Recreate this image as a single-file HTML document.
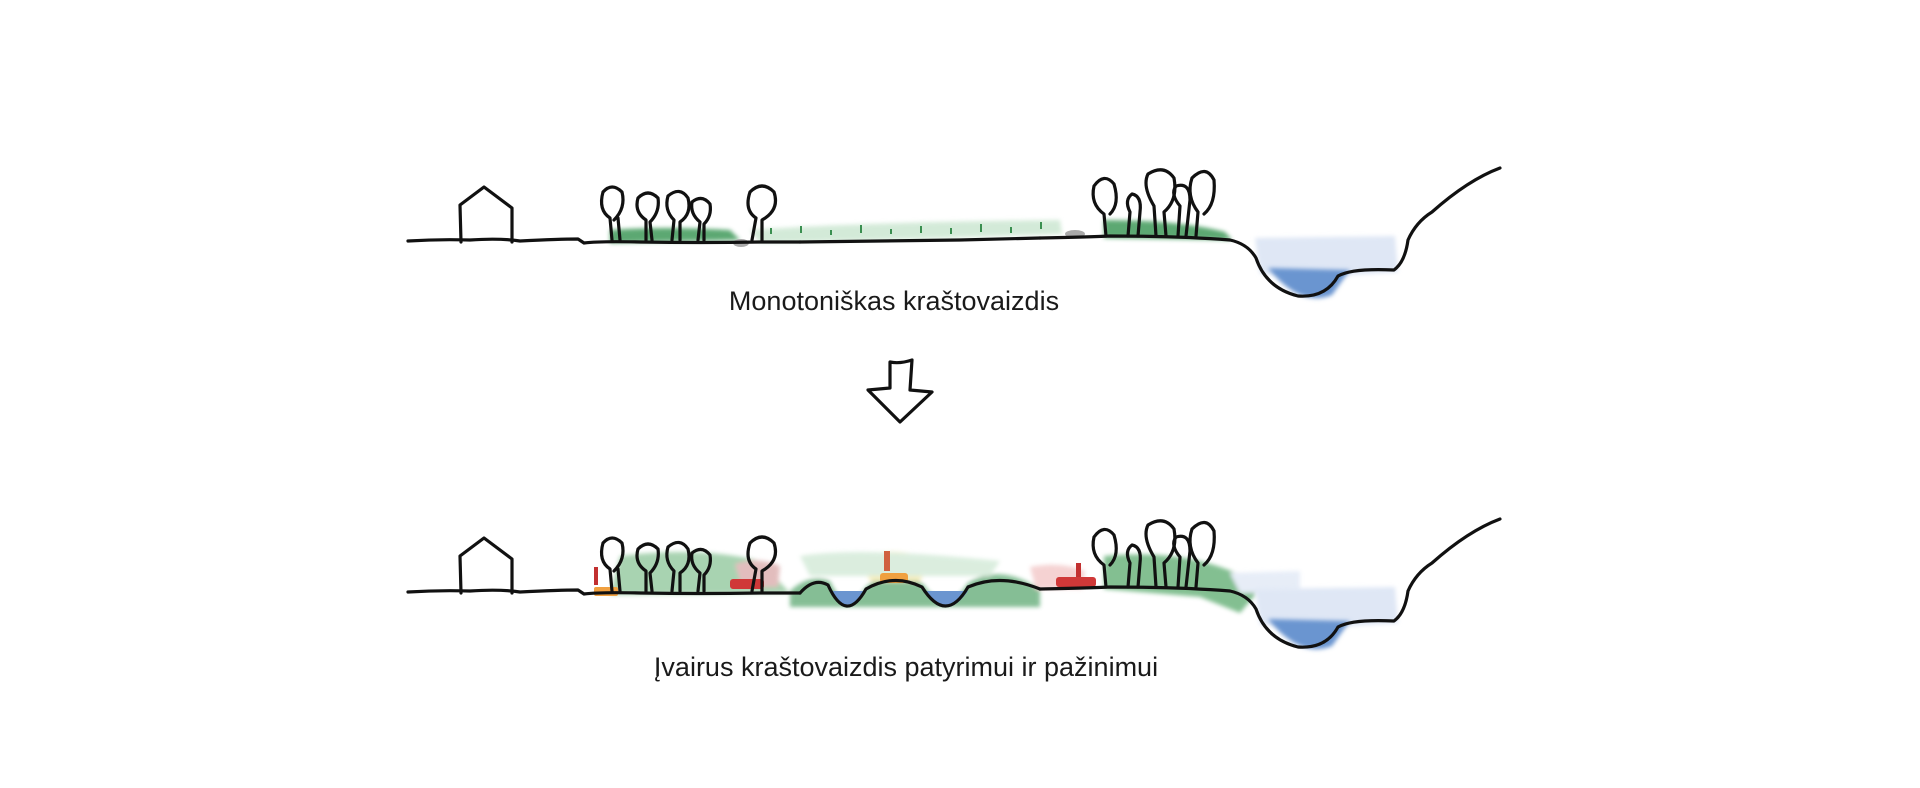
<!DOCTYPE html>
<html><head><meta charset="utf-8"><style>
html,body{margin:0;padding:0;background:#fff;width:1920px;height:788px;overflow:hidden}
svg{display:block}
text{font-family:"Liberation Sans",sans-serif;font-size:27px;fill:#1a1a1a}
</style></head><body>
<svg width="1920" height="788" viewBox="0 0 1920 788" xmlns="http://www.w3.org/2000/svg">
<defs>
<filter id="bl" x="-20%" y="-50%" width="140%" height="200%"><feGaussianBlur stdDeviation="2"/></filter>
<g id="base" fill="none" stroke="#111" stroke-width="3.2" stroke-linecap="round" stroke-linejoin="round">
  <path d="M1255 238 L1395 236 L1398 272 L1335 276 L1260 274 Z" fill="#dfe7f5" stroke="none" filter="url(#bl)"/>
  <path d="M1268 268 Q1300 308 1332 295 L1350 270 Z" fill="#6b95d0" stroke="none" filter="url(#bl)"/>
  <path d="M1040 238 Q1090 237 1110 236 Q1180 236 1230 240 Q1248 244 1256 258 Q1266 288 1298 296 Q1326 298 1338 276 Q1352 268 1394 270 Q1405 262 1408 240 Q1416 222 1432 212 Q1468 180 1500 168"/>
  <path d="M408 241 Q440 239 470 240 Q500 238 520 241 Q560 239 578 239 L584 243 Q600 241 640 242 Q700 243 760 242 Q790 242 800 242"/>
  <path d="M461 242 L460 205 L484 187 L512 208 L512 242"/>
  <path d="M612 240 L610 218 Q598 210 603 192 Q612 182 622 192 Q626 208 614 220 M618 218 L620 240"/>
  <path d="M646 240 L646 220 Q634 212 638 198 Q648 188 658 198 Q660 212 650 222 L652 240"/>
  <path d="M672 240 L674 220 Q664 210 668 196 Q680 186 688 198 Q692 214 680 222 L680 240"/>
  <path d="M698 240 L700 222 Q690 214 692 202 Q702 194 710 204 Q712 216 704 224 L704 240"/>
  <path d="M752 240 L756 218 Q744 210 750 192 Q762 180 774 192 Q780 210 762 220 L762 240"/>
  <path d="M1106 236 L1104 214 Q1090 204 1094 186 Q1104 172 1114 184 Q1120 204 1110 214"/>
  <path d="M1128 236 L1130 212 Q1124 200 1132 194 Q1142 196 1140 212 L1138 236"/>
  <path d="M1156 236 L1154 206 Q1142 186 1148 174 Q1164 164 1174 178 Q1178 200 1164 212 L1166 236"/>
  <path d="M1178 236 L1180 206 Q1170 194 1176 186 Q1190 182 1190 200 L1186 236"/>
  <path d="M1196 236 L1198 212 Q1186 196 1192 178 Q1206 164 1214 180 Q1216 204 1204 214"/>
</g>
</defs>

<g>
  <path d="M610 230 Q660 226 730 230 L740 240 L610 243 Z" fill="#3f9a5a" opacity=".85" filter="url(#bl)"/>
  <path d="M750 230 Q860 222 1060 220 L1062 234 Q900 240 760 243 Z" fill="#cfe8d4" opacity=".9" filter="url(#bl)"/>
  <path d="M1104 220 Q1180 220 1225 232 L1232 240 L1104 238 Z" fill="#3f9a5a" opacity=".85" filter="url(#bl)"/>
  <g fill="#3a8f50">
    <rect x="770" y="228" width="2" height="6"/><rect x="800" y="226" width="2" height="7"/><rect x="830" y="230" width="2" height="5"/>
    <rect x="860" y="225" width="2" height="8"/><rect x="890" y="229" width="2" height="5"/><rect x="920" y="226" width="2" height="7"/>
    <rect x="950" y="228" width="2" height="6"/><rect x="980" y="224" width="2" height="8"/><rect x="1010" y="227" width="2" height="6"/><rect x="1040" y="222" width="2" height="7"/>
  </g>
  <ellipse cx="741" cy="243" rx="8" ry="4" fill="#aaa"/>
  <ellipse cx="1075" cy="234" rx="10" ry="4" fill="#aaa"/>
  <use href="#base"/>
  <path d="M800 242 Q880 241 960 240 Q1000 239 1040 238" fill="none" stroke="#111" stroke-width="3.2" stroke-linecap="round"/>
</g>
<text x="894" y="310" text-anchor="middle">Monotoniškas kraštovaizdis</text>

<path d="M890 362 L890 388 L868 390 L900 422 L932 392 L910 390 L912 360 Q900 364 890 362 Z" fill="none" stroke="#111" stroke-width="3.2" stroke-linejoin="round"/>

<g transform="translate(0,351)">
  <g filter="url(#bl)" opacity=".75">
    <path d="M620 205 Q700 195 760 210 L790 242 L610 244 Z" fill="#8cc598"/>
    <path d="M790 240 Q810 222 830 230 Q846 266 866 236 Q894 210 924 234 Q946 266 968 232 Q1000 212 1040 238 L1040 256 L790 256 Z" fill="#3f9a5a" opacity=".85"/>
    <path d="M860 206 Q900 194 930 210 L920 230 L870 230 Z" fill="#f4e9a8"/>
    <path d="M1030 216 Q1060 210 1085 220 L1082 238 L1036 238 Z" fill="#f2c4c4"/>
    <path d="M1104 205 Q1200 196 1262 236 L1240 262 L1200 246 L1104 238 Z" fill="#5aaa6d"/>
    <path d="M1230 222 L1300 220 L1300 240 L1240 242 Z" fill="#dfe7f5"/>
    <path d="M735 213 Q760 205 780 215 L778 236 L742 236 Z" fill="#d9a8a8"/>
    <path d="M800 205 Q860 195 1000 210 L990 225 L810 225 Z" fill="#cfe8d4"/>
  </g>
  <path d="M830 240 Q846 272 866 240 Z" fill="#6b95d0"/>
  <path d="M926 240 Q946 272 968 240 Z" fill="#6b95d0"/>
  <rect x="594" y="236" width="24" height="9" rx="2" fill="#f0a040"/>
  <rect x="594" y="216" width="4" height="18" fill="#c23030"/>
  <rect x="730" y="228" width="34" height="10" rx="3" fill="#d03838"/>
  <rect x="880" y="222" width="28" height="10" rx="3" fill="#f0a040"/>
  <rect x="884" y="200" width="6" height="20" fill="#d06040"/>
  <rect x="1056" y="226" width="40" height="10" rx="3" fill="#d03838"/>
  <rect x="1076" y="212" width="5" height="14" fill="#c23030"/>
  <use href="#base"/>
  <path d="M800 242 Q814 226 828 234 Q846 274 866 238 Q894 222 922 236 Q946 274 968 236 Q1000 222 1040 238" fill="none" stroke="#111" stroke-width="3.2" stroke-linecap="round"/>
</g>
<text x="906" y="676" text-anchor="middle">Įvairus kraštovaizdis patyrimui ir pažinimui</text>
</svg>
</body></html>
